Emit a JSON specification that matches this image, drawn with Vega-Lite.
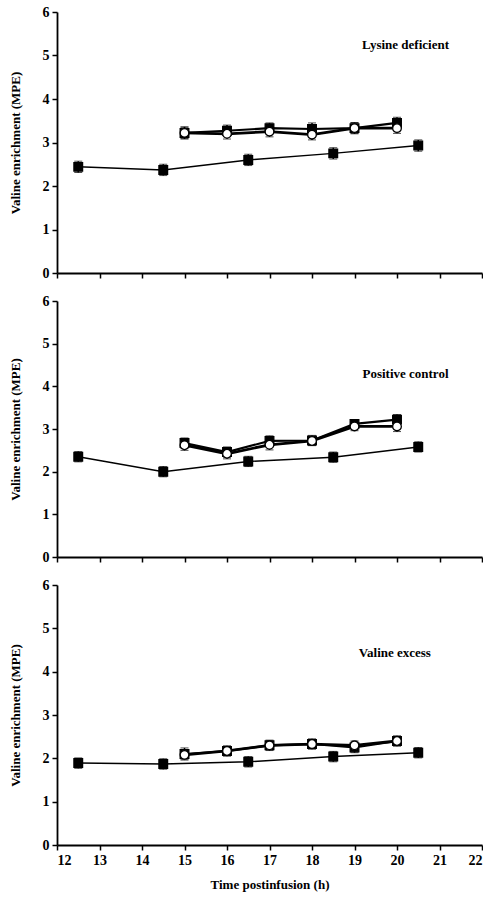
{
  "$schema": "https://vega.github.io/schema/vega-lite/v6.json",
  "padding": {"left": 9, "top": 5, "right": 0, "bottom": 5},
  "spacing": 14,
  "datasets": {
    "points": [
      {"panel": "L", "series": "A", "time": 12.5, "value": 2.44, "err": 0.13},
      {"panel": "L", "series": "A", "time": 14.5, "value": 2.37, "err": 0.13},
      {"panel": "L", "series": "A", "time": 16.5, "value": 2.60, "err": 0.13},
      {"panel": "L", "series": "A", "time": 18.5, "value": 2.75, "err": 0.13},
      {"panel": "L", "series": "A", "time": 20.5, "value": 2.93, "err": 0.13},
      {"panel": "L", "series": "B", "time": 15, "value": 3.22, "err": 0.13},
      {"panel": "L", "series": "B", "time": 16, "value": 3.27, "err": 0.13},
      {"panel": "L", "series": "B", "time": 17, "value": 3.33, "err": 0.12},
      {"panel": "L", "series": "B", "time": 18, "value": 3.31, "err": 0.14},
      {"panel": "L", "series": "B", "time": 19, "value": 3.33, "err": 0.12},
      {"panel": "L", "series": "B", "time": 20, "value": 3.45, "err": 0.13},
      {"panel": "L", "series": "C", "time": 15, "value": 3.22, "err": 0.14},
      {"panel": "L", "series": "C", "time": 16, "value": 3.20, "err": 0.12},
      {"panel": "L", "series": "C", "time": 17, "value": 3.25, "err": 0.12},
      {"panel": "L", "series": "C", "time": 18, "value": 3.18, "err": 0.12},
      {"panel": "L", "series": "C", "time": 19, "value": 3.33, "err": 0.13},
      {"panel": "L", "series": "C", "time": 20, "value": 3.33, "err": 0.12},
      {"panel": "P", "series": "A", "time": 12.5, "value": 2.35, "err": 0.12},
      {"panel": "P", "series": "A", "time": 14.5, "value": 2.00, "err": 0.12},
      {"panel": "P", "series": "A", "time": 16.5, "value": 2.24, "err": 0.12},
      {"panel": "P", "series": "A", "time": 18.5, "value": 2.34, "err": 0.12},
      {"panel": "P", "series": "A", "time": 20.5, "value": 2.58, "err": 0.12},
      {"panel": "P", "series": "B", "time": 15, "value": 2.67, "err": 0.12},
      {"panel": "P", "series": "B", "time": 16, "value": 2.46, "err": 0.12},
      {"panel": "P", "series": "B", "time": 17, "value": 2.72, "err": 0.12},
      {"panel": "P", "series": "B", "time": 18, "value": 2.73, "err": 0.12},
      {"panel": "P", "series": "B", "time": 19, "value": 3.12, "err": 0.10},
      {"panel": "P", "series": "B", "time": 20, "value": 3.22, "err": 0.12},
      {"panel": "P", "series": "C", "time": 15, "value": 2.62, "err": 0.12},
      {"panel": "P", "series": "C", "time": 16, "value": 2.42, "err": 0.12},
      {"panel": "P", "series": "C", "time": 17, "value": 2.63, "err": 0.12},
      {"panel": "P", "series": "C", "time": 18, "value": 2.72, "err": 0.10},
      {"panel": "P", "series": "C", "time": 19, "value": 3.06, "err": 0.10},
      {"panel": "P", "series": "C", "time": 20, "value": 3.06, "err": 0.12},
      {"panel": "V", "series": "A", "time": 12.5, "value": 1.89, "err": 0.12},
      {"panel": "V", "series": "A", "time": 14.5, "value": 1.87, "err": 0.12},
      {"panel": "V", "series": "A", "time": 16.5, "value": 1.92, "err": 0.12},
      {"panel": "V", "series": "A", "time": 18.5, "value": 2.04, "err": 0.12},
      {"panel": "V", "series": "A", "time": 20.5, "value": 2.13, "err": 0.12},
      {"panel": "V", "series": "B", "time": 15, "value": 2.10, "err": 0.14},
      {"panel": "V", "series": "B", "time": 16, "value": 2.17, "err": 0.10},
      {"panel": "V", "series": "B", "time": 17, "value": 2.30, "err": 0.10},
      {"panel": "V", "series": "B", "time": 18, "value": 2.33, "err": 0.10},
      {"panel": "V", "series": "B", "time": 19, "value": 2.25, "err": 0.12},
      {"panel": "V", "series": "B", "time": 20, "value": 2.40, "err": 0.10},
      {"panel": "V", "series": "C", "time": 15, "value": 2.08, "err": 0.10},
      {"panel": "V", "series": "C", "time": 16, "value": 2.17, "err": 0.12},
      {"panel": "V", "series": "C", "time": 17, "value": 2.30, "err": 0.12},
      {"panel": "V", "series": "C", "time": 18, "value": 2.33, "err": 0.12},
      {"panel": "V", "series": "C", "time": 19, "value": 2.30, "err": 0.10},
      {"panel": "V", "series": "C", "time": 20, "value": 2.40, "err": 0.12}
    ],
    "labels": [
      {"panel": "L", "label": "Lysine deficient"},
      {"panel": "P", "label": "Positive control"},
      {"panel": "V", "label": "Valine excess"}
    ]
  },
  "vconcat": [
    {
      "width": 425, "height": 261,
      "layer": [
        {
          "data": {"name": "points"},
          "transform": [{"filter": "datum.panel === 'L'"}],
          "encoding": {
            "x": {"field": "time", "type": "quantitative", "scale": {"domain": [12, 22], "nice": false}, "axis": {"values": [12,13,14,15,16,17,18,19,20,21,22], "labels": false, "title": null}},
            "y": {"field": "value", "type": "quantitative", "scale": {"domain": [0, 6], "nice": false}, "axis": {"values": [0,1,2,3,4,5,6], "title": "Valine enrichment (MPE)"}}
          },
          "layer": [
            {"mark": {"type": "line", "color": "black"}, "encoding": {"detail": {"field": "series"}, "strokeWidth": {"field": "series", "type": "nominal", "scale": {"domain": ["A","B","C"], "range": [1.5, 2.8, 1.3]}, "legend": null}}},
            {"mark": {"type": "errorbar", "ticks": {"size": 8, "color": "black", "strokeWidth": 1.5}, "rule": {"color": "black", "strokeWidth": 1.5}}, "encoding": {"yError": {"field": "err"}, "detail": {"field": "series"}}},
            {"mark": {"type": "point", "filled": false, "stroke": "black", "strokeWidth": 1.3, "opacity": 1}, "encoding": {"shape": {"field": "series", "type": "nominal", "scale": {"domain": ["A","B","C"], "range": ["square","square","circle"]}, "legend": null}, "fill": {"field": "series", "type": "nominal", "scale": {"domain": ["A","B","C"], "range": ["black","black","white"]}, "legend": null}, "size": {"value": 75}}}
          ]
        },
        {
          "data": {"name": "labels"},
          "transform": [{"filter": "datum.panel === 'L'"}],
          "mark": {"type": "text", "font": "Liberation Serif", "fontWeight": "bold", "fontSize": 13, "color": "black"},
          "encoding": {"x": {"datum": 20.2}, "y": {"datum": 5.25}, "text": {"field": "label", "type": "nominal"}}
        }
      ]
    },
    {
      "width": 425, "height": 256,
      "layer": [
        {
          "data": {"name": "points"},
          "transform": [{"filter": "datum.panel === 'P'"}],
          "encoding": {
            "x": {"field": "time", "type": "quantitative", "scale": {"domain": [12, 22], "nice": false}, "axis": {"values": [12,13,14,15,16,17,18,19,20,21,22], "labels": false, "title": null}},
            "y": {"field": "value", "type": "quantitative", "scale": {"domain": [0, 6], "nice": false}, "axis": {"values": [0,1,2,3,4,5,6], "title": "Valine enrichment (MPE)"}}
          },
          "layer": [
            {"mark": {"type": "line", "color": "black"}, "encoding": {"detail": {"field": "series"}, "strokeWidth": {"field": "series", "type": "nominal", "scale": {"domain": ["A","B","C"], "range": [1.5, 2.8, 1.3]}, "legend": null}}},
            {"mark": {"type": "errorbar", "ticks": {"size": 8, "color": "black", "strokeWidth": 1.5}, "rule": {"color": "black", "strokeWidth": 1.5}}, "encoding": {"yError": {"field": "err"}, "detail": {"field": "series"}}},
            {"mark": {"type": "point", "filled": false, "stroke": "black", "strokeWidth": 1.3, "opacity": 1}, "encoding": {"shape": {"field": "series", "type": "nominal", "scale": {"domain": ["A","B","C"], "range": ["square","square","circle"]}, "legend": null}, "fill": {"field": "series", "type": "nominal", "scale": {"domain": ["A","B","C"], "range": ["black","black","white"]}, "legend": null}, "size": {"value": 75}}}
          ]
        },
        {
          "data": {"name": "labels"},
          "transform": [{"filter": "datum.panel === 'P'"}],
          "mark": {"type": "text", "font": "Liberation Serif", "fontWeight": "bold", "fontSize": 13, "color": "black"},
          "encoding": {"x": {"datum": 20.2}, "y": {"datum": 4.28}, "text": {"field": "label", "type": "nominal"}}
        }
      ]
    },
    {
      "width": 425, "height": 260,
      "layer": [
        {
          "data": {"name": "points"},
          "transform": [{"filter": "datum.panel === 'V'"}],
          "encoding": {
            "x": {"field": "time", "type": "quantitative", "scale": {"domain": [12, 22], "nice": false}, "axis": {"values": [12,13,14,15,16,17,18,19,20,21,22], "title": "Time postinfusion (h)", "titlePadding": 11}},
            "y": {"field": "value", "type": "quantitative", "scale": {"domain": [0, 6], "nice": false}, "axis": {"values": [0,1,2,3,4,5,6], "title": "Valine enrichment (MPE)"}}
          },
          "layer": [
            {"mark": {"type": "line", "color": "black"}, "encoding": {"detail": {"field": "series"}, "strokeWidth": {"field": "series", "type": "nominal", "scale": {"domain": ["A","B","C"], "range": [1.5, 2.8, 1.3]}, "legend": null}}},
            {"mark": {"type": "errorbar", "ticks": {"size": 8, "color": "black", "strokeWidth": 1.5}, "rule": {"color": "black", "strokeWidth": 1.5}}, "encoding": {"yError": {"field": "err"}, "detail": {"field": "series"}}},
            {"mark": {"type": "point", "filled": false, "stroke": "black", "strokeWidth": 1.3, "opacity": 1}, "encoding": {"shape": {"field": "series", "type": "nominal", "scale": {"domain": ["A","B","C"], "range": ["square","square","circle"]}, "legend": null}, "fill": {"field": "series", "type": "nominal", "scale": {"domain": ["A","B","C"], "range": ["black","black","white"]}, "legend": null}, "size": {"value": 75}}}
          ]
        },
        {
          "data": {"name": "labels"},
          "transform": [{"filter": "datum.panel === 'V'"}],
          "mark": {"type": "text", "font": "Liberation Serif", "fontWeight": "bold", "fontSize": 13, "color": "black"},
          "encoding": {"x": {"datum": 19.95}, "y": {"datum": 4.44}, "text": {"field": "label", "type": "nominal"}}
        }
      ]
    }
  ],
  "config": {
    "view": {"stroke": null},
    "axis": {
      "grid": false,
      "domainColor": "black", "domainWidth": 1.8,
      "tickColor": "black", "tickWidth": 1.5, "tickSize": 5,
      "labelFont": "Liberation Serif", "labelFontWeight": "bold", "labelFontSize": 14, "labelColor": "black", "labelPadding": 3,
      "titleFont": "Liberation Serif", "titleFontWeight": "bold", "titleFontSize": 13, "titleColor": "black"
    },
    "axisY": {"titlePadding": 20}
  }
}
